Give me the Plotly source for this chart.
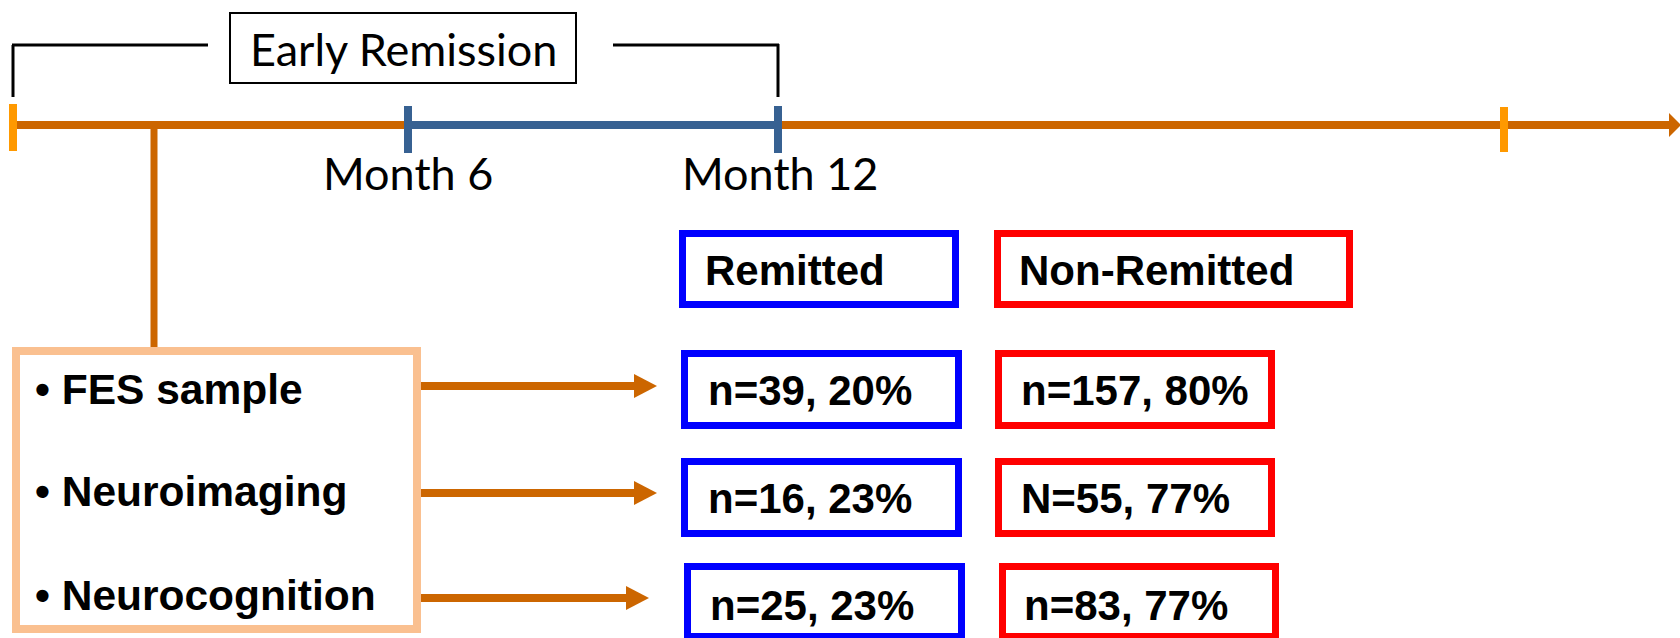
import plotly.graph_objects as go

# ---- data ----
timepoints = ["Month 6", "Month 12"]
header_title = "Early Remission"
groups = ["Remitted", "Non-Remitted"]
samples = ["FES sample", "Neuroimaging", "Neurocognition"]
remitted_n = [39, 16, 25]
remitted_pct = [20, 23, 23]
nonremitted_n = [157, 55, 83]
nonremitted_pct = [80, 77, 77]
nonremitted_prefix = ["n", "N", "n"]

# ---- style ----
ORANGE = "#CC6600"
LIGHT_ORANGE = "#FF9900"
STEEL = "#376192"
PEACH = "#FAC090"
BLUE = "#0000FF"
RED = "#FF0000"
W, H = 1680, 638

fig = go.Figure()
fig.add_trace(go.Scatter(x=[0, W], y=[0, H], mode="markers", marker=dict(opacity=0), hoverinfo="skip", showlegend=False))

shapes = []
def line(x0, y0, x1, y1, color, width):
    shapes.append(dict(type="line", x0=x0, y0=y0, x1=x1, y1=y1, line=dict(color=color, width=width), layer="above"))

def tri(xb, yc, xt, half, color):
    shapes.append(dict(type="path", path=f"M {xb} {yc-half} L {xt} {yc} L {xb} {yc+half} Z",
                       fillcolor=color, line=dict(color=color, width=0), layer="above"))

def rect(x0, y0, x1, y1, color, width):
    h = width / 2
    shapes.append(dict(type="rect", x0=x0 + h, y0=y0 + h, x1=x1 - h, y1=y1 - h,
                       line=dict(color=color, width=width), fillcolor="rgba(0,0,0,0)", layer="above"))

# bracket
line(13, 97, 13, 45, "black", 3)
line(12, 45, 208, 45, "black", 3)
line(613, 45, 779, 45, "black", 3)
line(778, 44, 778, 97, "black", 3)
rect(229, 12, 577, 84, "black", 2)

# timeline
line(13, 125, 1670, 125, ORANGE, 8)
tri(1669, 125, 1681, 12, ORANGE)
line(408, 125, 778, 125, STEEL, 8)
line(13, 104, 13, 151, LIGHT_ORANGE, 8)
line(1504, 107, 1504, 152, LIGHT_ORANGE, 8)
line(408, 106, 408, 153, STEEL, 8)
line(778, 106, 778, 153, STEEL, 8)
# drop line
line(154, 125, 154, 347, ORANGE, 7)

# sample box
rect(12, 347, 421, 633, PEACH, 8)

# arrows
arrow_y = [386, 493, 598]
arrow_base = [634, 634, 626]
arrow_tip = [657, 657, 649]
for y, xb, xt in zip(arrow_y, arrow_base, arrow_tip):
    line(421, y, xb + 1, y, ORANGE, 8)
    tri(xb, y, xt, 12, ORANGE)

# header boxes
rect(679, 230, 959, 308, BLUE, 7)
rect(994, 230, 1353, 308, RED, 7)
# row boxes
rem_box_x = [(681, 962), (681, 962), (684, 965)]
non_box_x = [(995, 1275), (995, 1275), (999, 1279)]
row_box_y = [(350, 429), (458, 537), (563, 640)]
for (rx0, rx1), (nx0, nx1), (y0, y1) in zip(rem_box_x, non_box_x, row_box_y):
    rect(rx0, y0, rx1, y1, BLUE, 7)
    rect(nx0, y0, nx1, y1, RED, 7)

ann = []
def text(x, y, s, size, family, anchor="left", bold=False):
    ann.append(dict(x=x, y=y, xref="x", yref="y", text=(f"<b>{s}</b>" if bold else s), showarrow=False,
                    xanchor=anchor, yanchor="middle", font=dict(size=size, family=family, color="black")))

CAL = "Lato"
ARI = "Liberation Sans"
text(403, 49, header_title, 45, CAL, "center")
for x, t in zip([408, 780], timepoints):
    text(x, 173, t, 45, CAL, "center")

text(703, 270, groups[0], 42, ARI, bold=True)
text(1017, 270, groups[1], 42, ARI, bold=True)

sample_y = [389, 491, 595]
for y, s in zip(sample_y, samples):
    text(33, y, "• " + s, 42.5, ARI, bold=True)

row_text_y = [390, 498, 605]
rem_text_x = [706, 706, 708]
non_text_x = [1019, 1019, 1022]
for i in range(3):
    text(rem_text_x[i], row_text_y[i], f"n={remitted_n[i]}, {remitted_pct[i]}%", 42, ARI, bold=True)
    text(non_text_x[i], row_text_y[i], f"{nonremitted_prefix[i]}={nonremitted_n[i]}, {nonremitted_pct[i]}%", 42, ARI, bold=True)

fig.update_layout(
    width=W, height=H, autosize=False,
    margin=dict(l=0, r=0, t=0, b=0),
    paper_bgcolor="white", plot_bgcolor="white",
    xaxis=dict(range=[0, W], visible=False, fixedrange=True),
    yaxis=dict(range=[H, 0], visible=False, fixedrange=True),
    shapes=shapes, annotations=ann, showlegend=False,
)
fig.write_html("out.html", config={"displayModeBar": False},
               post_script="document.body.style.margin='0';document.body.style.overflow='hidden';")
